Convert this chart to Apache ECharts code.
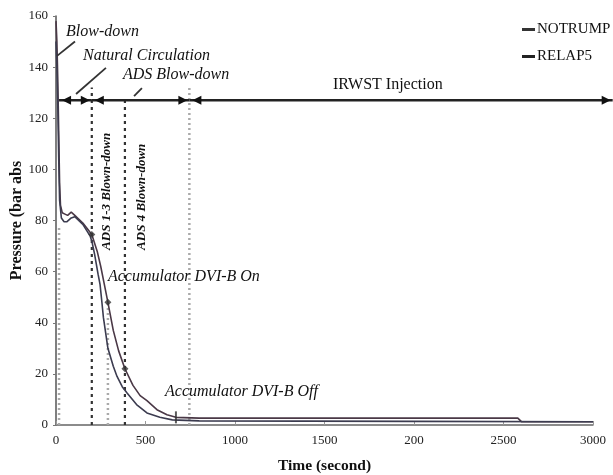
<!DOCTYPE html>
<html><head><meta charset="utf-8">
<script src="https://cdn.jsdelivr.net/npm/echarts@6/dist/echarts.min.js"></script>
<style>html,body{margin:0;padding:0;background:#fff}#c{width:613px;height:475px}</style>
</head><body><div id="c"></div>
<script>
// ---- data ----
const notrumpT = [0,5,10,15,20,25,35,50,65,85,105,150,200,230,250,270,290,320,350,385,430,470,508,564,620,670,800,2000,2580,2600,3000];
const notrumpP = [158,150,135,115,95,86,83,82.5,82,83.3,82,79,74.5,68,62,55,48,37,29,22,15.5,11.5,9.5,6,4,3,2.7,2.7,2.7,1.3,1.3];
const relapT = [0,5,10,15,20,30,45,60,85,105,150,190,200,215,225,235,246,255,265,290,320,341,370,397,450,508,580,650,800,2000,3000];
const relapP = [150,140,125,105,88,81,79.5,79.5,81,81.5,78.5,74,72,67,63,59,55,49,42,30,23,19,15,12.5,8,4.7,3,2,1.6,1.4,1.3];
const eventT = [200,290,385,670];
const eventP = [74.5,48,22,3];
const lineT = [17,200,290,385,745];
const lineTop = [78,132,48,127,132];
const lineKind = ['gray','dark','gray','dark','gray'];
const phaseSegs = [[17,200],[200,745],[745,3110]];
const phaseLevel = 127;
const annoText = ['Blow-down','Natural Circulation','ADS Blow-down','IRWST Injection','ADS 1-3 Blown-down','ADS 4 Blown-down','Accumulator DVI-B On','Accumulator DVI-B Off'];
const annoT = [56,151,374,1547,285,476,290,609];
const annoV = [154,144.4,137,133,68.5,68.5,58,13];
const annoKind = ['it','it','it','up','rot','rot','it','it'];
const pointers = [[106,150,6,144.4],[279,139.7,112,129.5],[480,131.8,436,128.7]];
const xTickLabels = {0:'0',500:'500',1000:'1000',1500:'1500',2000:'200',2500:'2500',3000:'3000'};

const serif = '"Liberation Serif","Times New Roman",serif';
const chart = echarts.init(document.getElementById('c'), null, {renderer:'canvas'});
const zip = (a,b) => a.map((v,i)=>[v,b[i]]);

chart.setOption({
  animation:false,
  backgroundColor:'#fff',
  grid:{left:56,right:20,top:16,bottom:50,containLabel:false,outerBoundsMode:'none'},
  legend:{
    data:['NOTRUMP','RELAP5'], orient:'vertical', left:522, top:22, itemGap:12, padding:0,
    icon:'rect', itemWidth:13, itemHeight:3,
    textStyle:{fontFamily:serif,fontSize:15,color:'#111',padding:[0,0,0,-3]}
  },
  xAxis:{
    type:'value', min:0, max:3000, interval:500,
    name:'Time (second)', nameLocation:'middle', nameGap:33, nameMoveOverlap:false,
    nameTextStyle:{fontFamily:serif,fontSize:15.5,fontWeight:'bold',color:'#111'},
    axisLine:{lineStyle:{color:'#666',width:1.5}},
    axisTick:{inside:true,length:4,lineStyle:{color:'#999'}},
    axisLabel:{fontFamily:serif,fontSize:13,color:'#222',margin:9,formatter:v=>xTickLabels[v]},
    splitLine:{show:false}
  },
  yAxis:{
    type:'value', min:0, max:160, interval:20,
    name:'Pressure (bar abs', nameLocation:'middle', nameGap:31, nameMoveOverlap:false,
    nameTextStyle:{fontFamily:serif,fontSize:16,fontWeight:'bold',color:'#111'},
    axisLine:{show:true,lineStyle:{color:'#555',width:1.5}},
    axisTick:{show:true,length:3,lineStyle:{color:'#777'}},
    axisLabel:{fontFamily:serif,fontSize:13,color:'#222',margin:8},
    splitLine:{show:false}
  },
  series:[
    {type:'custom', name:'lines', silent:true, z:1,
     data: lineT.map((t,i)=>[t,lineTop[i],i]),
     renderItem:(params,api)=>{
       const i=api.value(2);
       const p0=api.coord([api.value(0),0]), p1=api.coord([api.value(0),api.value(1)]);
       const dark=lineKind[i]==='dark';
       return {type:'line',shape:{x1:p0[0],y1:p0[1],x2:p1[0],y2:p1[1]},
         style:{stroke:dark?'#333':'#aaa',lineWidth:dark?2.2:2.5,lineDash:dark?[3,4]:[2,3]}};
     }},
    {type:'line', name:'NOTRUMP', data:zip(notrumpT,notrumpP), showSymbol:false, symbol:'none',
     lineStyle:{color:'#4a3846',width:1.6}, itemStyle:{color:'#333'}, z:3},
    {type:'line', name:'RELAP5', data:zip(relapT,relapP), showSymbol:false, symbol:'none',
     lineStyle:{color:'#3c3c50',width:1.6}, itemStyle:{color:'#222'}, z:3},
    {type:'scatter', name:'events', data:eventT.map((t,i)=>({value:[t,eventP[i]],
        symbol: i===eventT.length-1?'rect':'diamond', symbolSize: i===eventT.length-1?[2,12]:7})),
     itemStyle:{color:'#333'}, z:4},
    {type:'custom', name:'phases', silent:true, z:5, clip:false,
     data: phaseSegs,
     renderItem:(params,api)=>{
       const a=api.coord([api.value(0),phaseLevel]), b=api.coord([api.value(1),phaseLevel]);
       const y=a[1], ax=a[0]+3, bx=b[0]-2;
       return {type:'group',children:[
         {type:'line',shape:{x1:a[0],y1:y,x2:b[0],y2:y},style:{stroke:'#222',lineWidth:2.5}},
         {type:'polygon',shape:{points:[[ax,y],[ax+9,y-4.5],[ax+9,y+4.5]]},style:{fill:'#111'}},
         {type:'polygon',shape:{points:[[bx,y],[bx-9,y-4.5],[bx-9,y+4.5]]},style:{fill:'#111'}}
       ]};
     }},
    {type:'custom', name:'pointers', silent:true, z:5, clip:false,
     data: pointers,
     renderItem:(params,api)=>{
       const a=api.coord([api.value(0),api.value(1)]), b=api.coord([api.value(2),api.value(3)]);
       return {type:'line',shape:{x1:a[0],y1:a[1],x2:b[0],y2:b[1]},style:{stroke:'#333',lineWidth:1.8}};
     }},
    {type:'custom', name:'annotations', silent:true, z:6, clip:false,
     data: annoT.map((t,i)=>[t,annoV[i],i]),
     renderItem:(params,api)=>{
       const i=api.value(2), p=api.coord([api.value(0),api.value(1)]);
       const k=annoKind[i];
       if(k==='rot'){
         return {type:'text',x:p[0],y:p[1],rotation:Math.PI/2,
           style:{text:annoText[i],font:'italic bold 13px '+serif,fill:'#111',textAlign:'left',textVerticalAlign:'middle'}};
       }
       return {type:'text',x:p[0],y:p[1],
         style:{text:annoText[i],font:(k==='it'?'italic ':'')+'16px '+serif,fill:'#111',textAlign:'left',textVerticalAlign:'middle'}};
     }}
  ]
});
</script></body></html>
